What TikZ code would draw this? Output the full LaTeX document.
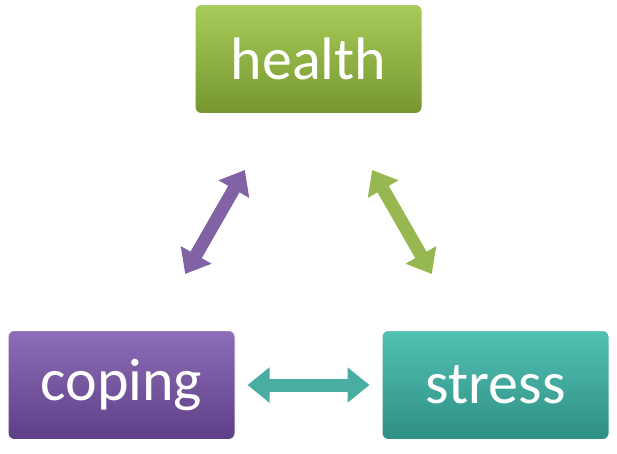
\documentclass[tikz,border=0pt]{standalone}
\usepackage{fontspec}
\setmainfont{Carlito}
\usetikzlibrary{arrows.meta}
\definecolor{grtop}{HTML}{A8CC5A}
\definecolor{grbot}{HTML}{76962E}
\definecolor{putop}{HTML}{8E6DB8}
\definecolor{pubot}{HTML}{5E3F86}
\definecolor{tetop}{HTML}{52C0B4}
\definecolor{tebot}{HTML}{2F8F84}
\tikzset{
  box/.style={rounded corners=6pt, minimum width=227pt, minimum height=109pt,
    text=white, font=\fontsize{60}{72}\selectfont, draw=white, line width=1pt},
  fat/.style={line width=13pt, {Triangle[width=34pt,length=22pt]}-{Triangle[width=34pt,length=22pt]}}
}
\begin{document}
\begin{tikzpicture}[x=1pt,y=1pt]
  \useasboundingbox (0,0) rectangle (617,-453);
  \node[box, top color=grtop, bottom color=grbot] (health) at (308.5,-59) {health};
  \node[box, top color=putop, bottom color=pubot] (coping) at (121.5,-385) {coping};
  \node[box, top color=tetop, bottom color=tebot] (stress) at (495.5,-385) {stress};
  % double arrows
  \draw[fat, putop!90!black, shorten <=128pt, shorten >=128pt] (health.center) -- (coping.center);
  \draw[fat, grtop!90!black, shorten <=128pt, shorten >=128pt] (health.center) -- (stress.center);
  \draw[fat, tetop!90!black, shorten <=12pt, shorten >=12pt] (coping.east) -- (stress.west);
\end{tikzpicture}
\end{document}
